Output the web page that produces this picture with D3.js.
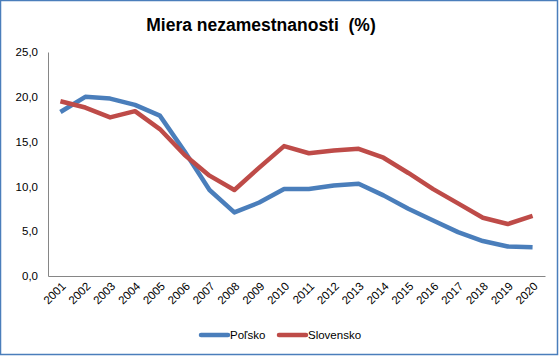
<!DOCTYPE html>
<html><head><meta charset="utf-8">
<script src="https://cdn.jsdelivr.net/npm/d3@7"></script>
<style>body{margin:0;background:#fff}svg{display:block}</style>
</head><body>
<script>
const years = ["2001","2002","2003","2004","2005","2006","2007","2008","2009","2010","2011","2012","2013","2014","2015","2016","2017","2018","2019","2020"];
const polsko = [18.3,20.0,19.8,19.1,17.9,13.9,9.6,7.1,8.2,9.7,9.7,10.1,10.3,9.0,7.5,6.2,4.9,3.9,3.3,3.2];
const slovensko = [19.5,18.8,17.7,18.4,16.4,13.5,11.2,9.6,12.1,14.5,13.7,14.0,14.2,13.2,11.5,9.7,8.1,6.5,5.8,6.7];
const yTicks = [0,5,10,15,20,25];
const seriesNames = ["Poľsko","Slovensko"];
const colors = ["#4a7ebb","#be4b48"];

const W=560,H=357;
const svg=d3.select("body").append("svg").attr("width",W).attr("height",H);
svg.append("rect").attr("x",0.5).attr("y",0.5).attr("width",W-3).attr("height",H-3)
  .attr("fill","#fff").attr("stroke","#4a7ebb").attr("stroke-width",1.5);
const font="'Liberation Sans', Arial, sans-serif";
svg.append("text").attr("x",261).attr("y",31).attr("text-anchor","middle")
  .style("white-space","pre")
  .attr("font-family",font).attr("font-weight","bold").attr("font-size",17.5).attr("fill","#000")
  .text("Miera nezamestnanosti  (%)");

const x0=48,x1=545,y0=276,y1=52;
const x=d3.scaleBand().domain(years).range([x0,x1]);
const y=d3.scaleLinear().domain([0,25]).range([y0,y1]);

const yAxis=svg.append("g").attr("transform",`translate(${x0},0)`)
  .call(d3.axisLeft(y).tickValues(yTicks).tickSize(0).tickPadding(10).tickFormat(d=>d3.format(".1f")(d).replace(".",",")));
yAxis.select(".domain").attr("stroke","#868686");
yAxis.selectAll("text").attr("font-family",font).attr("font-size",11.5).attr("fill","#000");

const xAxis=svg.append("g").attr("transform",`translate(0,${y0})`)
  .call(d3.axisBottom(x).tickSize(0).tickSizeOuter(0));
xAxis.select(".domain").attr("stroke","#868686");
xAxis.selectAll("text").attr("font-family",font).attr("font-size",11.5).attr("fill","#000")
  .attr("text-anchor","end").attr("dy",0).attr("y",0)
  .attr("transform","translate(6,11) rotate(-45)");

const line=d3.line().x((d,i)=>x(years[i])+x.bandwidth()/2).y(d=>y(d));
[polsko,slovensko].forEach((s,i)=>{
  svg.append("path").datum(s).attr("d",line).attr("fill","none")
    .attr("stroke",colors[i]).attr("stroke-width",4.5).attr("stroke-linejoin","round");
});

const legX=[201,279];
seriesNames.forEach((n,i)=>{
  svg.append("line").attr("x1",legX[i]).attr("x2",legX[i]+27).attr("y1",335).attr("y2",335)
    .attr("stroke",colors[i]).attr("stroke-width",4.5).attr("stroke-linecap","round");
  svg.append("text").attr("x",legX[i]+29).attr("y",339).attr("font-family",font)
    .attr("font-size",11.5).attr("fill","#000").text(n);
});
</script>
</body></html>
